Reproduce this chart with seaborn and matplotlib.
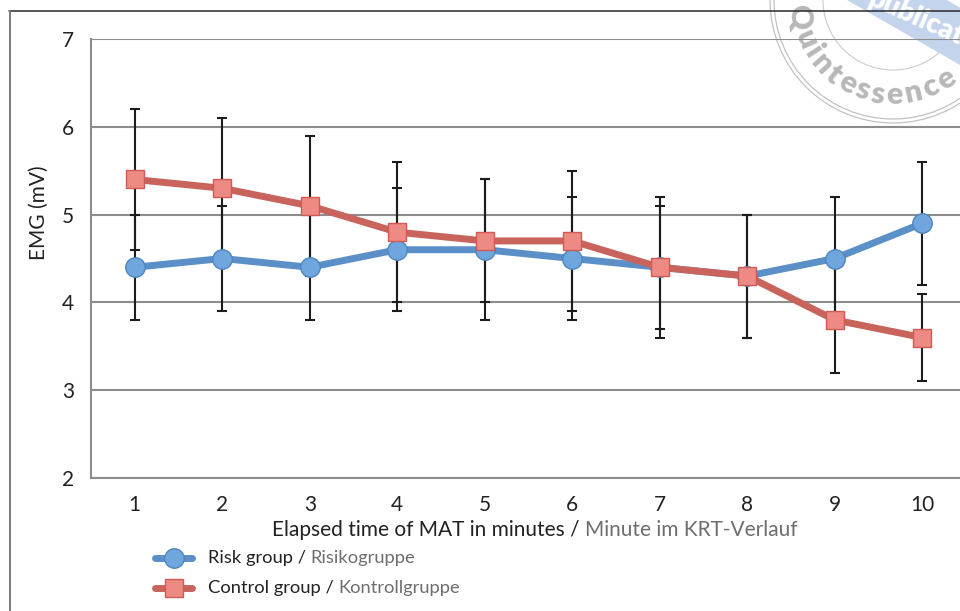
import numpy as np
import pandas as pd
import matplotlib
matplotlib.use("Agg")
import matplotlib.pyplot as plt
import seaborn as sns
from matplotlib.offsetbox import TextArea, HPacker, VPacker, DrawingArea, AnchoredOffsetbox
from matplotlib.lines import Line2D
from matplotlib.patches import Circle, Polygon
from matplotlib.font_manager import FontProperties
from matplotlib.textpath import TextToPath

# ---- data -------------------------------------------------------------
minutes = [1, 2, 3, 4, 5, 6, 7, 8, 9, 10]
risk_mean = [4.4, 4.5, 4.4, 4.6, 4.6, 4.5, 4.4, 4.3, 4.5, 4.9]
risk_sd = [0.6, 0.6, 0.6, 0.7, 0.8, 0.7, 0.7, 0.7, 0.7, 0.7]
control_mean = [5.4, 5.3, 5.1, 4.8, 4.7, 4.7, 4.4, 4.3, 3.8, 3.6]
control_sd = [0.8, 0.8, 0.8, 0.8, 0.7, 0.8, 0.8, 0.7, 0.6, 0.5]
y_ticks = [2, 3, 4, 5, 6, 7]

risk_label = ("Risk group / ", "Risikogruppe")
control_label = ("Control group / ", "Kontrollgruppe")
x_label = ("Elapsed time of MAT in minutes / ", "Minute im KRT-Verlauf")
y_label = "EMG (mV)"

# ---- style ------------------------------------------------------------
sns.set_style("white")
plt.rcParams["font.family"] = ["Lato", "DejaVu Sans"]

DARK = "#222222"
GREY_TXT = "#6e6e6e"
GRID = "#8c8c8c"
BLUE_LINE, BLUE_FACE, BLUE_EDGE = "#5b8fc7", "#6fa6dd", "#4f86c0"
RED_LINE, RED_FACE, RED_EDGE = "#c8645c", "#ee8a84", "#d05a54"
FS_TICK = 15
FS_TITLE = 15
FS_LEG = 13.2

W, H = 960, 611
fig = plt.figure(figsize=(W / 100, H / 100), dpi=100)
fig.patch.set_facecolor("white")

# background layer in pixel coordinates: frame and publisher stamp
bg = fig.add_axes([0, 0, 1, 1], zorder=0)
bg.set_xlim(0, W)
bg.set_ylim(H, 0)
bg.axis("off")

cx, cy = 893, 0
for r in (123, 119):
    bg.add_patch(Circle((cx, cy), r, fill=False, ec="#c2c2c2", lw=0.9, zorder=1))
bg.add_patch(Circle((cx, cy), 70, fill=False, ec="#cccccc", lw=0.8, zorder=1))

stamp_word = "Quintessence"
stamp_fp = FontProperties(family="Lato", weight="heavy", size=22)
t2p = TextToPath()
widths = np.array([t2p.get_text_width_height_descent(ch, stamp_fp, ismath=False)[0]
                   for ch in stamp_word])
centers = np.cumsum(widths) - widths / 2
angles = 190 + (centers - centers[0]) / (centers[-1] - centers[0]) * (304 - 190)
r_text = 95
for ch, a in zip(stamp_word, angles):
    th = np.deg2rad(a)
    bg.text(cx + r_text * np.cos(th), cy - r_text * np.sin(th), ch,
            rotation=a + 90, rotation_mode="anchor", ha="center", va="center",
            fontproperties=stamp_fp, color="#b8b8b8", zorder=2)

band = Polygon([(800, -27), (1000, 88), (1025, 45), (825, -70)], closed=True,
               fc="#c3d4ec", ec="none", zorder=3)
bg.add_patch(band)
bg.text(870, -3, "publication", rotation=-24, rotation_mode="anchor",
        ha="left", va="center", fontsize=20, fontweight="heavy", color="white", zorder=4)

bg.add_line(Line2D([9, W], [11, 11], color="#2a2a2a", lw=1.1, zorder=5))
bg.add_line(Line2D([9.5, 9.5], [11, H], color="#7a7a7a", lw=1.4, zorder=5))

# ---- main chart -------------------------------------------------------
ax = fig.add_axes([91 / W, 133 / H, 875 / W, 439 / H], zorder=1)
ax.patch.set_alpha(0)

ax.errorbar(minutes, risk_mean, yerr=risk_sd, fmt="none", ecolor="#1c1c1c",
            elinewidth=1.5, capsize=3.3, capthick=1.5, zorder=2)
ax.errorbar(minutes, control_mean, yerr=control_sd, fmt="none", ecolor="#1c1c1c",
            elinewidth=1.5, capsize=3.3, capthick=1.5, zorder=2)

sns.lineplot(x=minutes, y=risk_mean, ax=ax, color=BLUE_LINE, lw=5, marker="o",
             markersize=14, markerfacecolor=BLUE_FACE, markeredgecolor=BLUE_EDGE,
             markeredgewidth=1, legend=False, zorder=3)
sns.lineplot(x=minutes, y=control_mean, ax=ax, color=RED_LINE, lw=5, marker="s",
             markersize=13.5, markerfacecolor=RED_FACE, markeredgecolor=RED_EDGE,
             markeredgewidth=1, legend=False, zorder=4)

ax.set_xlim(0.5, 10.5)
ax.set_ylim(2, 7)
ax.set_yticks(y_ticks)
ax.set_xticks(minutes)
ax.set_xticks(np.arange(0.5, 11, 1), minor=True)
ax.tick_params(axis="x", which="major", length=0, pad=12, labelsize=FS_TICK, labelcolor=DARK)
ax.tick_params(axis="x", which="minor", length=7, width=1.5, color=GRID, direction="out")
ax.tick_params(axis="y", length=7, width=1.5, color=GRID, direction="out", pad=5,
               labelsize=FS_TICK, labelcolor=DARK)
ax.yaxis.grid(True, color=GRID, lw=1.5)
ax.xaxis.grid(False)
for side in ("top", "right"):
    ax.spines[side].set_visible(False)
for side in ("left", "bottom"):
    ax.spines[side].set_color(GRID)
    ax.spines[side].set_linewidth(1.5)
ax.set_xlabel("")
ax.set_ylabel(y_label, fontsize=FS_TITLE, color=DARK)
ax.yaxis.set_label_coords(-0.048, 0.605)

# two-tone x axis title
xl_box = HPacker(children=[TextArea(x_label[0], textprops=dict(color=DARK, fontsize=FS_TITLE)),
                           TextArea(x_label[1], textprops=dict(color=GREY_TXT, fontsize=FS_TITLE))],
                 sep=0, pad=0, align="baseline")
fig.add_artist(AnchoredOffsetbox(loc="center", child=xl_box, pad=0, borderpad=0,
                                 frameon=False, bbox_to_anchor=(535 / W, 1 - 530 / H),
                                 bbox_transform=fig.transFigure))


# legend with two-tone entries
def legend_row(line_c, face_c, edge_c, marker, ms, texts):
    da = DrawingArea(31, 16, 0, 0)
    da.add_artist(Line2D([2.5, 28.5], [8, 8], color=line_c, lw=5, solid_capstyle="round"))
    da.add_artist(Line2D([15.5], [8], marker=marker, ms=ms, mfc=face_c, mec=edge_c, mew=1,
                         linestyle="none"))
    txt = HPacker(children=[TextArea(texts[0], textprops=dict(color=DARK, fontsize=FS_LEG)),
                            TextArea(texts[1], textprops=dict(color=GREY_TXT, fontsize=FS_LEG))],
                  sep=0, pad=0, align="baseline")
    return HPacker(children=[da, txt], sep=9, pad=0, align="center")


rows = VPacker(children=[legend_row(BLUE_LINE, BLUE_FACE, BLUE_EDGE, "o", 14, risk_label),
                         legend_row(RED_LINE, RED_FACE, RED_EDGE, "s", 13.5, control_label)],
               sep=5, pad=0, align="left")
fig.add_artist(AnchoredOffsetbox(loc="center left", child=rows, pad=0, borderpad=0,
                                 frameon=False, bbox_to_anchor=(152 / W, 1 - 573 / H),
                                 bbox_transform=fig.transFigure))

fig.savefig("out.png", dpi=100)
